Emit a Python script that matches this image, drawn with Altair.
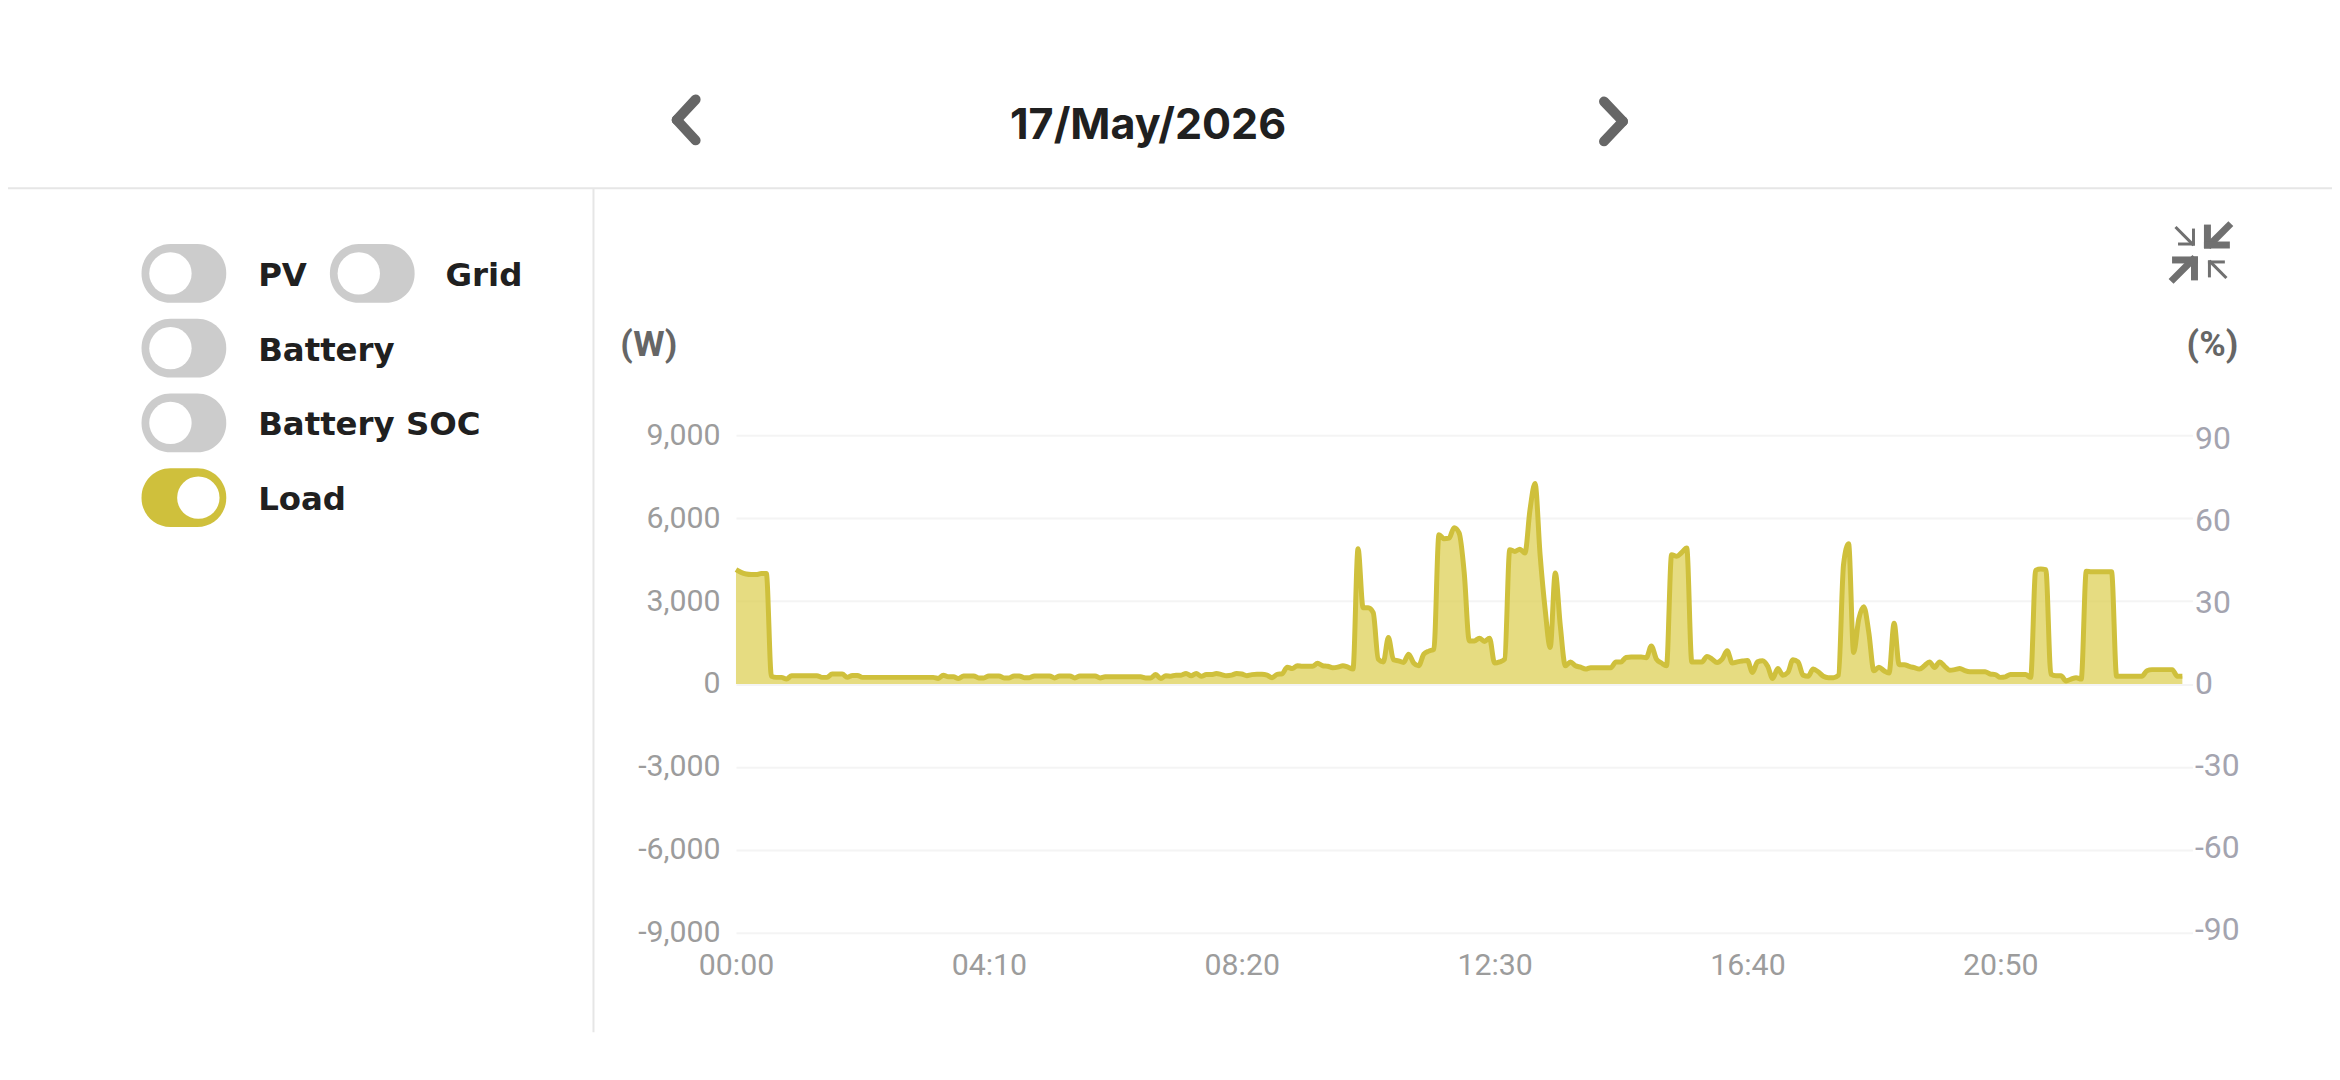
import altair as alt
import pandas as pd

# load in watts, one reading every 5 minutes
load_w = [
    4140, 4040, 3980, 3960, 3960, 4000, 4000, 280, 240, 240,
    180, 300, 300, 300, 300, 300, 300, 240, 240, 360,
    360, 360, 240, 310, 310, 240, 240, 240, 240, 240,
    240, 240, 240, 240, 240, 240, 240, 240, 240, 240,
    200, 320, 260, 260, 200, 290, 290, 290, 220, 220,
    290, 290, 290, 220, 220, 290, 290, 230, 230, 290,
    290, 290, 290, 220, 290, 290, 290, 220, 290, 290, 290,
    290, 220, 260, 260, 260, 260, 260, 260, 260, 260,
    220, 220, 340, 200, 300, 280, 320, 320, 380, 300,
    380, 280, 340, 340, 380, 340, 300, 320, 380, 360,
    300, 340, 350, 350, 320, 230, 350, 370, 610, 560,
    660, 640, 640, 640, 750, 660, 640, 590, 610, 660,
    610, 540, 4900, 2760, 2760, 2580, 900, 800, 1680, 880,
    840, 780, 1080, 760, 660, 1080, 1190, 1260, 5400, 5260,
    5280, 5660, 5460, 4020, 1560, 1560, 1660, 1540, 1660, 760,
    800, 900, 4860, 4800, 4880, 4740, 6300, 7260, 4680, 2700,
    1320, 4020, 2100, 660, 800, 660, 610, 540, 590, 590,
    590, 590, 590, 800, 800, 960, 980, 980, 980, 950,
    1380, 900, 760, 660, 4680, 4620, 4760, 4920, 800, 800,
    800, 1000, 900, 780, 900, 1200, 760, 800, 830, 850,
    420, 800, 840, 640, 200, 560, 320, 420, 880, 800,
    320, 280, 540, 440, 280, 230, 230, 320, 4320, 5080,
    1140, 2340, 2800, 1860, 480, 610, 480, 400, 2200, 700,
    700, 640, 590, 540, 660, 800, 600, 800, 640, 500,
    520, 560, 480, 440, 440, 440, 440, 360, 340, 240,
    260, 340, 340, 340, 340, 240, 4120, 4160, 4140, 360,
    300, 300, 110, 180, 230, 180, 4080, 4060, 4060, 4060,
    4060, 4060, 280, 280, 280, 280, 280, 280, 480, 520,
    520, 520, 520, 520, 280, 280,
]
minutes = [i * 5 for i in range(len(load_w))]

watt_ticks = [-9000, -6000, -3000, 0, 3000, 6000, 9000]
percent_ticks = [-90, -60, -30, 0, 30, 60, 90]
time_ticks = [0, 250, 500, 750, 1000, 1250]
date_label = "17/May/2026"

# plot area position on the page
PLOT_LEFT = 738.5
PLOT_TOP = 435
PLOT_W = 1461.5
PLOT_H = 499

YELLOW = "#cfc03c"
TICK_GREY = "#9c9c9c"
HEAD_FONT = "Inter"
SIDE_FONT = "DejaVu Sans"

one_row = pd.DataFrame({"a": [0]})


def px(x):
    return alt.value(x - PLOT_LEFT)


def py(y):
    return alt.value(y - PLOT_TOP)


def segment(x1, y1, x2, y2, width, color, cap="square"):
    return alt.Chart(one_row).mark_rule(
        strokeWidth=width, color=color, strokeCap=cap
    ).encode(x=px(x1), x2=px(x2), y=py(y1), y2=py(y2))


def label(text, x, y, size, color, weight=700, align="left", font=HEAD_FONT):
    return alt.Chart(one_row).mark_text(
        text=text, font=font, fontSize=size, fontWeight=weight, color=color,
        align=align, baseline="alphabetic"
    ).encode(x=px(x), y=py(y))


def toggle(x, y, on, name, text_x):
    track = alt.Chart(one_row).mark_rect(
        cornerRadius=29, color=YELLOW if on else "#cccccc"
    ).encode(x=px(x), x2=px(x + 85), y=py(y), y2=py(y + 59))
    knob_x = x + 57 if on else x + 29
    knob = alt.Chart(one_row).mark_circle(size=1810, color="white", opacity=1).encode(
        x=px(knob_x), y=py(y + 29.5)
    )
    return [track, knob, label(name, text_x, y + 42, 32.5, "#202020", font=SIDE_FONT)]


df = pd.DataFrame({"minute": minutes, "load": load_w})

x_scale = alt.Scale(domain=[0, 1440], nice=False, zero=False)
x_enc = alt.X(
    "minute:Q", scale=x_scale, title=None,
    axis=alt.Axis(
        values=time_ticks, labelFont="Roboto", labelFontSize=30.4, labelColor=TICK_GREY,
        labelPadding=18, domain=False, ticks=False, grid=False,
        labelFlush=False,
        labelExpr="format(floor(datum.value/60),'02d')+':'+format(datum.value%60,'02d')",
    ),
)
y_enc = alt.Y(
    "load:Q", scale=alt.Scale(domain=[-9000, 9000], nice=False), title=None,
    axis=alt.Axis(
        values=watt_ticks, labelFont="Roboto", labelFontSize=30.4, labelColor=TICK_GREY,
        labelPadding=16, domain=False, ticks=False, gridColor="#f4f4f4", gridWidth=2,
        labelExpr="replace(format(datum.value,',d'),'\u2212','-')",
    ),
)

area = alt.Chart(df).mark_area(
    color="#dccf50", opacity=0.72, interpolate="monotone",
    line={"color": YELLOW, "strokeWidth": 5, "opacity": 1},
).encode(x=x_enc, y=y_enc)

# right hand axis, nothing drawn from it while Battery SOC is off
right_axis = alt.Chart(pd.DataFrame({"pct": percent_ticks})).mark_point(opacity=0).encode(
    y=alt.Y(
        "pct:Q", scale=alt.Scale(domain=[-91.2, 91.2], nice=False), title=None,
        axis=alt.Axis(
            orient="right", values=percent_ticks, labelFont="Roboto", labelFontSize=32,
            labelColor="#a4a4af", labelPadding=2, domain=False, ticks=False, grid=False,
            labelExpr="replace(format(datum.value,'d'),'\u2212','-')",
        ),
    )
)

plot = alt.layer(area, right_axis).resolve_scale(y="independent")

deco = [
    segment(0, 187, 2340, 187, 2, "#e6e6e6"),
    segment(595.5, 188, 595.5, 1033, 2, "#e6e6e6"),
    label(date_label, 1152, 138, 43.2, "#202020", align="center"),
    # date arrows
    segment(698, 98, 679, 118.5, 10, "#666666", "round"),
    segment(679, 118.5, 698, 139, 10, "#666666", "round"),
    segment(1609.5, 100, 1628.5, 120, 10, "#666666", "round"),
    segment(1628.5, 120, 1609.5, 140, 10, "#666666", "round"),
    label("(W)", 651, 355, 36, "#666666", align="center", font="Roboto"),
    label("(%)", 2220, 355, 36, "#666666", align="center", font="Roboto"),
]

# shrink icon, top right corner
icon = [
    (2184, 227, 2200, 243, 3), (2201, 229, 2201, 243, 3), (2187, 243, 2201, 243, 3),
    (2236, 225, 2218, 243, 7), (2215, 227, 2215, 244, 7), (2215, 244, 2234, 244, 7),
    (2181, 278, 2200, 259, 7), (2183, 259, 2202, 259, 7), (2202, 259, 2202, 276, 7),
    (2233, 276, 2218, 261, 3), (2217, 275, 2217, 261, 3), (2217, 261, 2231, 261, 3),
]
deco += [segment(a, b, c, d, w, "#707070") for a, b, c, d, w in icon]

deco += toggle(142, 243, False, "PV", 259)
deco += toggle(331, 243, False, "Grid", 447)
deco += toggle(142, 318, False, "Battery", 259)
deco += toggle(142, 393, False, "Battery SOC", 259)
deco += toggle(142, 468, True, "Load", 259)

chart = alt.layer(plot, *deco).properties(
    width=PLOT_W,
    height=PLOT_H,
    autosize=alt.AutoSizeParams(type="none"),
    padding={
        "left": PLOT_LEFT - 8,
        "top": PLOT_TOP - 8,
        "right": 2332 - (PLOT_LEFT - 8) - PLOT_W,
        "bottom": 1060 - (PLOT_TOP - 8) - PLOT_H,
    },
    background="white",
).configure_view(strokeWidth=0)

chart.save("out.html", embed_options={"renderer": "svg", "actions": False})
